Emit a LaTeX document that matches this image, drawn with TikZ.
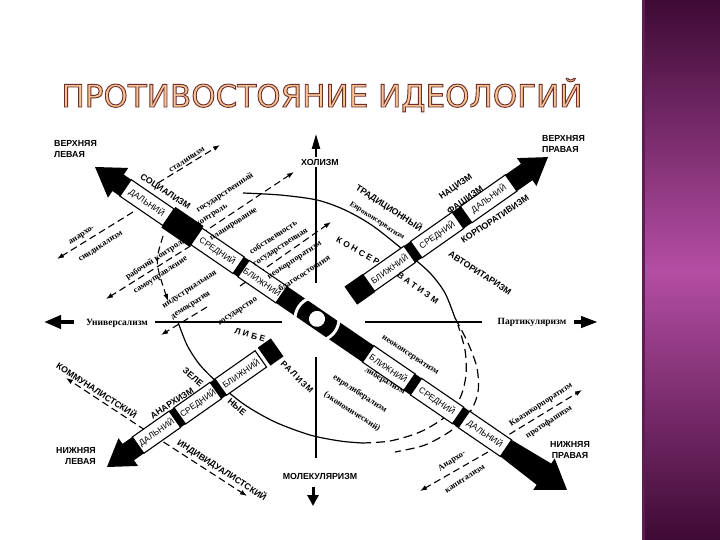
\documentclass[tikz,border=0pt]{standalone}
\usepackage{fontspec}
\setmainfont{Liberation Serif}
\setsansfont{Liberation Sans}
\newfontfamily\titlefont{DejaVu Sans}
\usetikzlibrary{arrows.meta,calc}
\definecolor{titlefill}{RGB}{246,196,150}
\definecolor{titleedge}{RGB}{110,45,40}
\definecolor{bardark}{RGB}{62,10,52}
\definecolor{barmid}{RGB}{180,78,164}
\definecolor{barline}{RGB}{92,30,82}
\newcommand{\hb}{10}
\newcommand{\nwangle}{-34.38}
\newcommand{\neangle}{35.1}
\newcommand{\outlined}[1]{\special{pdf:code q 2 Tr 0.9 w 0.43 0.18 0.16 RG}#1\special{pdf:code Q}}
\newcommand{\bandbox}[5]{%
  \draw[bandedge] (#1,-\hb) rectangle (#2,\hb);
  \node[bandlabel,rotate=#5] (#3) at ({(#1+#2)/2},0) {#4};}
\newcommand{\bandblack}[2]{\fill (#1,-\hb) rectangle (#2,\hb);}

\tikzset{
  bandedge/.style={draw=black,fill=white,line width=1.1pt},
  bandlabel/.style={font=\sffamily\fontsize{8.5}{9}\selectfont,inner sep=0pt},
  caplabel/.style={font=\sffamily\bfseries\fontsize{8.8}{11}\selectfont,inner sep=1pt},
  spaced/.style={font=\sffamily\bfseries\fontsize{8.5}{9}\selectfont\addfontfeature{LetterSpace=30},inner sep=0pt},
  serlabel/.style={font=\rmfamily\bfseries\fontsize{8.5}{9}\selectfont,inner sep=0.5pt},
  titletext/.style={font=\titlefont\fontsize{31}{31}\selectfont,anchor=base,inner sep=0pt},
  dasharrow/.style={line width=1.1pt,dash pattern=on 7pt off 4pt,-{Latex[length=7pt,width=5pt]}},
  vline/.style={line width=2.2pt},
  hline/.style={line width=2.8pt},
  arcline/.style={line width=1.2pt},
  arcdash/.style={line width=1.2pt,dash pattern=on 9pt off 5pt},
}

\begin{document}
\begin{tikzpicture}[x=1pt,y=-1pt]
\useasboundingbox (0,0) rectangle (720,540);
\fill[white] (0,0) rectangle (720,540);
%Side bar:
\shade[top color=bardark,bottom color=bardark,middle color=barmid] (642,0) rectangle (720,540);
\fill[barline] (642,0) rectangle (645,540);

%Title:
\node[titletext,text=titlefill] (title) at (322,107) {\outlined{ПРОТИВОСТОЯНИЕ ИДЕОЛОГИЙ}};

%Ellipse:
\draw[arcline] plot[smooth] coordinates {(243,193) (280,195) (317,200) (345,210) (373,226) (407,253) (430,273) (445,293) (455,318)};
\draw[arcdash] plot[smooth] coordinates {(455,318) (468,343) (477,368) (478,392) (470,412) (452,430) (425,445) (395,452)};
\draw[arcline] plot[smooth] coordinates {(178,322) (187,345) (200,365) (220,385) (245,405) (275,422) (310,435) (340,441) (362,443)};
\draw[arcdash] plot[smooth] coordinates {(362,443) (390,441) (420,432) (445,417) (460,398) (466,375) (465,350) (458,325)};

%Axes:
\coordinate (vtop) at (316,134);
\coordinate (vup) at (316,283);
\coordinate (vlow) at (316,357);
\coordinate (vbot) at (316,458);
\draw[vline,-{Triangle[length=15pt,width=8pt]}] (vup) -- (vtop);
\draw[vline] (vlow) -- (vbot);
\node[caplabel,fill=white,inner sep=2pt] (holism) at (320,162) {ХОЛИЗМ};
\node[caplabel] (molecular) at (320,476) {МОЛЕКУЛЯРИЗМ};
\coordinate (mtail) at (313,487);
\coordinate (mtip) at (313,506);
\draw[line width=3pt,-{Triangle[length=11pt,width=11pt]}] (mtail) -- (mtip);

\coordinate (hl1) at (155,322);
\coordinate (hl2) at (282,322);
\coordinate (hr1) at (365,322);
\coordinate (hr2) at (482,322);
\draw[hline] (hl1) -- (hl2);
\draw[hline] (hr1) -- (hr2);
\node[serlabel,font=\rmfamily\bfseries\fontsize{9.5}{9.5}\selectfont] (univ) at (117,323) {Универсализм};
\node[serlabel,font=\rmfamily\bfseries\fontsize{9.5}{9.5}\selectfont] (partic) at (532,322) {Партикуляризм};
\coordinate (ltail) at (74,322);
\coordinate (ltip) at (44,322);
\draw[line width=4pt,-{Triangle[length=17pt,width=13pt]}] (ltail) -- (ltip);
\coordinate (rtail) at (574,322);
\coordinate (rtip) at (598,322);
\draw[line width=4pt,-{Triangle[length=17pt,width=11pt]}] (rtail) -- (rtip);

%Corners:
\node[caplabel,align=left,anchor=north west] (upleft) at (53,139) {ВЕРХНЯЯ\\ЛЕВАЯ};
\node[caplabel,align=left,anchor=north west] (upright) at (541,134) {ВЕРХНЯЯ\\ПРАВАЯ};
\node[caplabel,align=right,anchor=north east] (lowleft) at (97,446) {НИЖНЯЯ\\ЛЕВАЯ};
\node[caplabel,align=center] (lowright) at (570,450) {НИЖНЯЯ\\ПРАВАЯ};

%Dashed arrows:
\coordinate (stalA) at (158,183);
\coordinate (stalB) at (220,145);
\draw[dasharrow] (stalA) -- (stalB);
\coordinate (synA) at (133,212);
\coordinate (synB) at (57,259);
\draw[dasharrow] (synA) -- (synB);
\coordinate (gosA) at (201,234);
\coordinate (gosB) at (294,172);
\draw[dasharrow] (gosA) -- (gosB);
\coordinate (rabA) at (200,240);
\coordinate (rabB) at (106,299);
\draw[dasharrow] (rabA) -- (rabB);
\coordinate (indA) at (207,307);
\coordinate (indB) at (161,335);
\draw[dasharrow] (indA) -- (indB);
\coordinate (sobA) at (240,286);
\coordinate (sobB) at (331,222);
\draw[dasharrow] (sobA) -- (sobB);
\coordinate (blockA) at (163,236);
\coordinate (blockB) at (168,301);
\draw[dasharrow] (blockA) .. controls (155,262) .. (blockB);
\coordinate (commA) at (145,430);
\coordinate (commB) at (66,378);
\coordinate (commC) at (247,496);
\draw[dasharrow] (commA) -- (commB);
\draw[dasharrow] (commA) -- (commC);
\coordinate (quasA) at (500,440);
\coordinate (quasB) at (582,390);
\draw[dasharrow] (quasA) -- (quasB);
\coordinate (ancapA) at (488,452);
\coordinate (ancapB) at (420,491);
\draw[dasharrow] (ancapA) -- (ancapB);

%Band NW-SE:
\begin{scope}[shift={(95,167)},rotate=\nwangle]
  \fill (0,0) -- (28,-18) -- (28,18) -- cycle;
  \bandblack{27}{37}
  \bandbox{37}{89}{nwfarA}{ДАЛЬНИЙ}{\nwangle}
  \fill (89,-12.5) rectangle (123,12.5);
  \bandbox{123}{174}{nwmidA}{СРЕДНИЙ}{\nwangle}
  \bandblack{174}{180}
  \bandbox{180}{226}{nwnearA}{БЛИЖНИЙ}{\nwangle}
  \bandblack{226}{331}
  \fill[white] (269,0) circle (8);
  \draw[white,line width=3pt] ($(269,0)+(145:22)$) arc (145:215:22);
  \draw[white,line width=3pt] ($(269,0)+(-35:22)$) arc (-35:35:22);
  \bandbox{331}{381}{nwnearB}{БЛИЖНИЙ}{\nwangle}
  \bandblack{381}{389}
  \bandbox{389}{440}{nwmidB}{СРЕДНИЙ}{\nwangle}
  \bandblack{440}{447}
  \bandbox{447}{498}{nwfarB}{ДАЛЬНИЙ}{\nwangle}
  \fill (498,-10) -- (546,-13) -- (546,13) -- (498,10) -- cycle;
  \fill (544,-19) -- (572,0) -- (544,19) -- cycle;
\end{scope}

%Band SW-NE:
\begin{scope}[shift={(107,467)},rotate=\neangle]
  \fill (0,0) -- (26,-17) -- (26,17) -- cycle;
  \bandblack{25}{38}
  \bandbox{38}{83}{swfar}{ДАЛЬНИЙ}{\neangle}
  \bandblack{83}{89}
  \bandbox{89}{133}{swmid}{СРЕДНИЙ}{\neangle}
  \bandblack{133}{139}
  \bandbox{139}{188}{swnear}{БЛИЖНИЙ}{\neangle}
  \fill (192,-11) rectangle (208,11);
  \fill (298,-11) rectangle (320,11);
  \bandbox{320}{370}{nenear}{БЛИЖНИЙ}{\neangle}
  \bandblack{370}{378}
  \bandbox{378}{429}{nemid}{СРЕДНИЙ}{\neangle}
  \bandblack{429}{439}
  \bandbox{439}{494}{nefar}{ДАЛЬНИЙ}{\neangle}
  \bandblack{494}{515}
  \fill (513,-17) -- (539,0) -- (513,17) -- cycle;
\end{scope}

%Ideologies:
\node[caplabel,rotate=-33] (social) at (165,192) {СОЦИАЛИЗМ};
\node[caplabel,rotate=-33] (tradit) at (389,208) {ТРАДИЦИОННЫЙ};
\node[serlabel,font=\rmfamily\bfseries\fontsize{7.5}{7.5}\selectfont,rotate=-33] (eurocons) at (377,221) {Евроконсерватизм};
\node[caplabel,rotate=35] (nazi) at (456,187) {НАЦИЗМ};
\node[caplabel,rotate=35] (fascism) at (465,200) {ФАШИЗМ};
\node[caplabel,rotate=34] (corpor) at (495,219) {КОРПОРАТИВИЗМ};
\node[caplabel,rotate=-33] (author) at (480,273) {АВТОРИТАРИЗМ};
\node[spaced,rotate=-30] (consA) at (358,251) {КОНСЕР};
\node[spaced,rotate=-35] (consB) at (418,288) {ВАТИЗМ};
\node[spaced,rotate=-16] (libA) at (250,335) {ЛИБЕ};
\node[spaced,font=\sffamily\bfseries\fontsize{8.5}{9}\selectfont\addfontfeature{LetterSpace=15},rotate=-45] (libB) at (297,377) {РАЛИЗМ};
\node[caplabel,rotate=-33] (commun) at (97,390) {КОММУНАЛИСТСКИЙ};
\node[caplabel,rotate=-33] (indiv) at (222,470) {ИНДИВИДУАЛИСТСКИЙ};
\node[caplabel,rotate=33] (anarch) at (172,403) {АНАРХИЗМ};
\node[caplabel,rotate=-40] (greenA) at (193,377) {ЗЕЛЕ};
\node[caplabel,rotate=-40] (greenB) at (237,407) {НЫЕ};

%Small labels:
\node[serlabel,rotate=33] (stalin) at (187,160) {сталинизм};
\node[serlabel,rotate=33] (anarsA) at (82,236) {анархо-};
\node[serlabel,rotate=33] (anarsB) at (101,247) {синдикализм};
\node[serlabel,rotate=33] (gosctl) at (225,193) {государственный};
\node[serlabel,rotate=33] (control) at (212,216) {контроль};
\node[serlabel,rotate=33] (planning) at (234,225) {планирование};
\node[serlabel,rotate=33] (workers) at (156,259) {рабочий контроль};
\node[serlabel,rotate=33] (selfgov) at (161,276) {самоуправление};
\node[serlabel,rotate=33] (industr) at (190,290) {индустриальная};
\node[serlabel,rotate=33] (democr) at (191,306) {демократия};
\node[serlabel,rotate=33] (propA) at (273,237) {собственность};
\node[serlabel,rotate=33] (propB) at (281,248) {государственная};
\node[serlabel,rotate=33] (neocorp) at (295,261) {неокорпоратизм};
\node[serlabel,rotate=33] (welfare) at (304,273) {благосостояния};
\node[serlabel,rotate=33] (state) at (238,312) {государство};
\node[serlabel,rotate=-33] (neocons) at (410,356) {неоконсерватизм};
\node[serlabel,rotate=-30] (liberal) at (385,381) {либерализм};
\node[serlabel,rotate=-33] (eurolib) at (360,394) {евролиберализм};
\node[serlabel,rotate=-33] (econ) at (352,412) {(экономический)};
\node[serlabel,rotate=33] (quasi) at (541,405) {Квазикорпоратизм};
\node[serlabel,rotate=33] (protof) at (549,422) {протофашизм};
\node[serlabel,rotate=33] (ancapL) at (452,461) {Анархо-};
\node[serlabel,rotate=33] (ancapR) at (465,479) {капитализм};
\end{tikzpicture}
\end{document}
